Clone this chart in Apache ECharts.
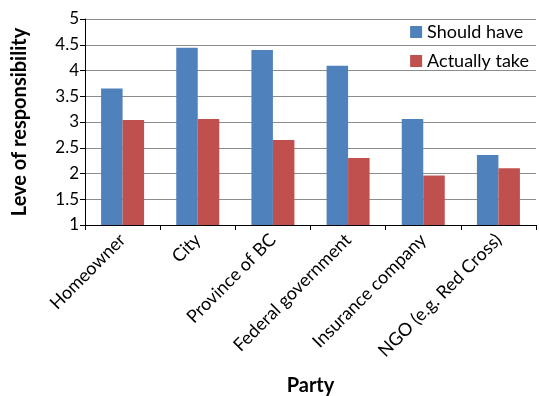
<!DOCTYPE html>
<html>
<head>
<meta charset="utf-8">
<script src="https://cdn.jsdelivr.net/npm/echarts@6/dist/echarts.min.js"></script>
<style>
  html, body { margin: 0; padding: 0; background: #fff; }
  #chart { width: 539px; height: 396px; }
</style>
</head>
<body>
<div id="chart"></div>
<script>
// Parties asked about and their rated levels of responsibility
const parties = ['Homeowner', 'City', 'Province of BC', 'Federal government', 'Insurance company', 'NGO (e.g. Red Cross)'];
const shouldHave = [3.65, 4.44, 4.40, 4.09, 3.06, 2.36];
const actuallyTake = [3.04, 3.06, 2.65, 2.30, 1.96, 2.10];
const seriesNames = ['Should have', 'Actually take'];

const FONT = 'Lato, "Open Sans", sans-serif';
const chart = echarts.init(document.getElementById('chart'), null, { renderer: 'canvas' });

chart.setOption({
  animation: false,
  color: ['#4F81BD', '#C0504D'],
  grid: { left: 85, right: 3, top: 19, bottom: 171, containLabel: false, outerBoundsMode: 'none' },
  legend: {
    orient: 'vertical',
    right: 10,
    top: 23,
    padding: 0,
    itemWidth: 12,
    itemHeight: 12,
    itemGap: 11,
    icon: 'rect',
    textStyle: { fontFamily: FONT, fontSize: 18, color: '#000' },
    data: seriesNames
  },
  xAxis: {
    type: 'category',
    data: parties,
    name: 'Party',
    nameLocation: 'middle',
    nameGap: 151,
    nameTextStyle: { fontFamily: FONT, fontSize: 20, fontWeight: 'bold', color: '#000' },
    axisLine: { lineStyle: { color: '#000', width: 1 } },
    axisTick: { show: true, length: 5, lineStyle: { color: '#000' } },
    axisLabel: { rotate: 45, fontFamily: FONT, fontSize: 18, color: '#000', margin: 12, interval: 0 }
  },
  yAxis: {
    type: 'value',
    min: 1,
    max: 5,
    interval: 0.5,
    name: 'Leve of responsibility',
    nameLocation: 'middle',
    nameGap: 55,
    nameTextStyle: { fontFamily: FONT, fontSize: 20, fontWeight: 'bold', color: '#000' },
    axisLine: { show: true, lineStyle: { color: '#000', width: 1 } },
    axisTick: { show: true, length: 5, lineStyle: { color: '#000' } },
    axisLabel: { fontFamily: FONT, fontSize: 17, color: '#000', margin: 6 },
    splitLine: { show: true, lineStyle: { color: '#8c8c8c', width: 1 } }
  },
  series: [
    { name: seriesNames[0], type: 'bar', data: shouldHave, barWidth: 21.5, barGap: '0%' },
    { name: seriesNames[1], type: 'bar', data: actuallyTake, barWidth: 21.5, barGap: '0%' }
  ]
});
</script>
</body>
</html>
